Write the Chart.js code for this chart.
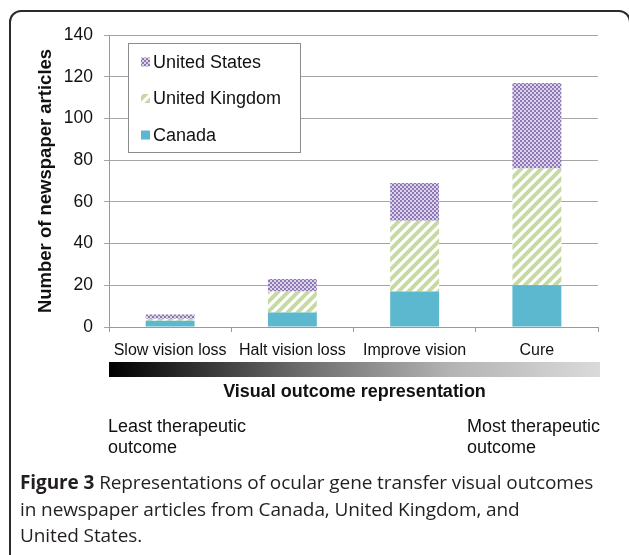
<!DOCTYPE html>
<html>
<head>
<meta charset="utf-8">
<script src="https://cdn.jsdelivr.net/npm/chart.js@4.4.1/dist/chart.umd.min.js"></script>
<style>
  html, body { margin: 0; padding: 0; background: #fff; }
  #wrap { position: relative; width: 629px; height: 555px; overflow: hidden; background: #fff; }
  #chart { position: absolute; left: 0; top: 0; }
  .frame { position: absolute; left: 9px; top: 10px; width: 622px; height: 620px; border: 2px solid #2b2b2b; border-radius: 12px; box-sizing: border-box; pointer-events: none; }
  .scale-bar { position: absolute; left: 109px; top: 362px; width: 491px; height: 15px; background: linear-gradient(to right, #000 0%, #6e6e6e 40%, #b4b4b4 70%, #dadada 100%); }
  .note { position: absolute; font-family: "Liberation Sans", Arial, sans-serif; color: #111; font-size: 18px; line-height: 21px; }
  .axis-title { position: absolute; left: 109px; width: 491px; top: 381px; text-align: center; font-family: "Liberation Sans", Arial, sans-serif; font-weight: bold; font-size: 18px; color: #111; }
  .caption { position: absolute; left: 20px; top: 469px; width: 610px; font-family: "Open Sans", "Noto Sans", sans-serif; font-size: 19px; font-weight: 500; line-height: 26.5px; color: #231f20; white-space: nowrap; letter-spacing: -0.1px; }
  .caption b { font-weight: 700; }
</style>
</head>
<body>
<div id="wrap">
  <canvas id="chart" width="629" height="555"></canvas>
  <div class="scale-bar"></div>
  <div class="axis-title">Visual outcome representation</div>
  <div class="note" style="left:108px; top:416px;">Least therapeutic<br>outcome</div>
  <div class="note" style="left:467px; top:416px;">Most therapeutic<br>outcome</div>
  <div class="caption"><b>Figure 3</b> Representations of ocular gene transfer visual outcomes<br>in newspaper articles from Canada, United Kingdom, and<br>United States.</div>
  <div class="frame"></div>
</div>
<script>
const outcomes = ['Slow vision loss', 'Halt vision loss', 'Improve vision', 'Cure'];
const canadaArticles = [3, 7, 17, 20];
const ukArticles = [1, 10, 34, 56];
const usArticles = [2, 6, 18, 41];
const yTicks = [0, 20, 40, 60, 80, 100, 120, 140];

const FONT = '"Liberation Sans", Arial, sans-serif';

function makeTile(size, draw) {
  const c = document.createElement('canvas');
  c.width = size;
  c.height = size;
  draw(c.getContext('2d'), size);
  return c;
}

const ctx = document.getElementById('chart').getContext('2d');

// purple fine checker for United States
const usTile = makeTile(4, (g) => {
  g.fillStyle = '#dcd3ea';
  g.fillRect(0, 0, 4, 4);
  g.fillStyle = '#8d78b6';
  g.fillRect(0, 0, 2, 2);
  g.fillRect(2, 2, 2, 2);
});
// light green diagonal stripes for United Kingdom
const ukTile = makeTile(10, (g, s) => {
  g.fillStyle = '#ffffff';
  g.fillRect(0, 0, s, s);
  g.strokeStyle = '#c6daa1';
  g.lineWidth = 4;
  g.beginPath();
  g.moveTo(-2, s + 2); g.lineTo(s + 2, -2);
  g.moveTo(-2, 2); g.lineTo(2, -2);
  g.moveTo(s - 2, s + 2); g.lineTo(s + 2, s - 2);
  g.stroke();
});
const usFill = ctx.createPattern(usTile, 'repeat');
const ukFill = ctx.createPattern(ukTile, 'repeat');
const canadaFill = '#5bb8cf';

// legend box drawn inside the plot area, like the original
const insideLegend = {
  id: 'insideLegend',
  afterDatasetsDraw(chart) {
    const { ctx: c, chartArea } = chart;
    const x = chartArea.left + 19;
    const y = chartArea.top + 8;
    const w = 172;
    const h = 109;
    c.save();
    c.fillStyle = '#fff';
    c.fillRect(x, y, w, h);
    c.strokeStyle = '#8c8c8c';
    c.lineWidth = 1;
    c.strokeRect(x + 0.5, y + 0.5, w, h);
    const items = chart.data.datasets.slice().reverse();
    c.font = `18px ${FONT}`;
    c.textBaseline = 'middle';
    items.forEach((ds, i) => {
      const cy = y + 19 + i * 36.5;
      c.fillStyle = ds.backgroundColor;
      c.fillRect(x + 13, cy - 4.5, 9, 9);
      c.fillStyle = '#111';
      c.fillText(ds.label, x + 25, cy + 1);
    });
    c.restore();
  }
};

const chart = new Chart(ctx, {
  type: 'bar',
  data: {
    labels: outcomes,
    datasets: [
      { label: 'Canada', data: canadaArticles, backgroundColor: canadaFill },
      { label: 'United Kingdom', data: ukArticles, backgroundColor: ukFill },
      { label: 'United States', data: usArticles, backgroundColor: usFill }
    ]
  },
  options: {
    responsive: false,
    animation: false,
    devicePixelRatio: 1,
    layout: { padding: { left: 29, right: 31, top: 35, bottom: 0 } },
    datasets: { bar: { categoryPercentage: 1, barPercentage: 0.4, borderWidth: 0 } },
    plugins: { legend: { display: false }, tooltip: { enabled: false } },
    scales: {
      x: {
        stacked: true,
        afterFit(scale) { scale.height = 228; },
        grid: { display: true, drawOnChartArea: false, drawTicks: true, tickLength: 5, color: '#9a9a9a', offset: true },
        border: { color: '#9a9a9a' },
        ticks: { font: { family: FONT, size: 16 }, color: '#111', padding: 9, maxRotation: 0 }
      },
      y: {
        stacked: true,
        min: 0,
        max: 140,
        afterFit(scale) { scale.width = 80; },
        afterBuildTicks(scale) { scale.ticks = yTicks.map((v) => ({ value: v })); },
        grid: { color: '#a6a6a6', tickLength: 5 },
        border: { color: '#9a9a9a' },
        ticks: { font: { family: FONT, size: 17.5 }, color: '#111', padding: 11 },
        title: {
          display: true,
          text: 'Number of newspaper articles',
          font: { family: FONT, size: 18.5, weight: 'bold' },
          color: '#111',
          padding: { top: 6, bottom: 4 }
        }
      }
    }
  },
  plugins: [insideLegend]
});
</script>
</body>
</html>
